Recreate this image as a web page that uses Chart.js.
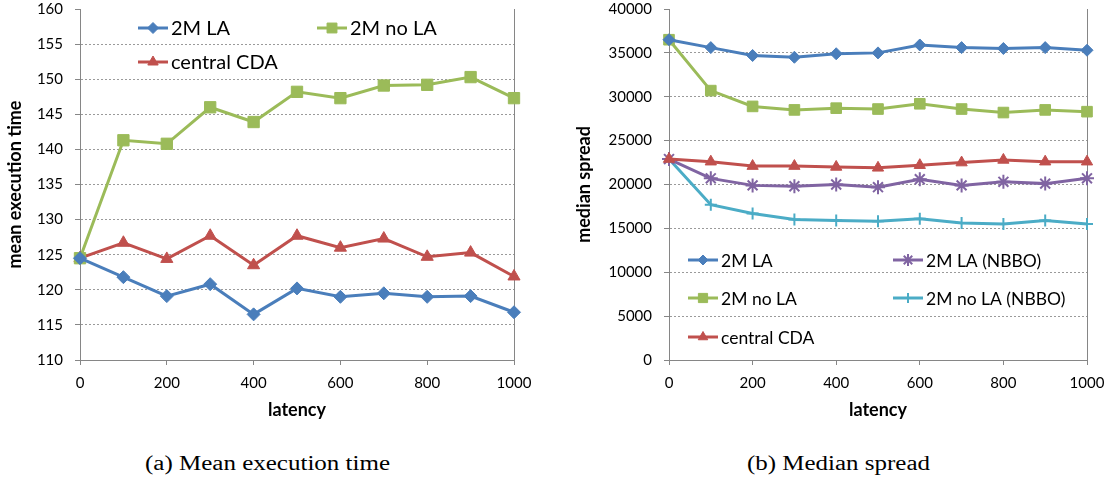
<!DOCTYPE html>
<html>
<head>
<meta charset="utf-8">
<script src="https://cdn.jsdelivr.net/npm/chart.js@4.4.0/dist/chart.umd.min.js"></script>
<style>
  body { margin: 0; background: #fff; width: 1109px; height: 484px; position: relative; overflow: hidden; }
  canvas { position: absolute; top: 0; }
  #execChart { left: 0; }
  #spreadChart { left: 565px; }
  .caption { position: absolute; top: 452px; font-family: "Liberation Serif"; font-size: 20px; white-space: nowrap; transform-origin: 0 0; color: #000; }
</style>
</head>
<body>
<canvas id="execChart" width="550" height="430"></canvas>
<canvas id="spreadChart" width="544" height="430"></canvas>
<div class="caption" style="left:145px" data-w="245">(a) Mean execution time</div>
<div class="caption" style="left:747px" data-w="183">(b) Median spread</div>
<script>
// latency values on the x axis
const latency = [0, 100, 200, 300, 400, 500, 600, 700, 800, 900, 1000];

// (a) mean execution time
const exec2MLA   = [124.5, 121.8, 119.1, 120.8, 116.5, 120.2, 119.0, 119.5, 119.0, 119.1, 116.8];
const exec2MNoLA = [124.5, 141.3, 140.8, 146.0, 143.9, 148.2, 147.3, 149.1, 149.2, 150.3, 147.3];
const execCDA    = [124.5, 126.7, 124.4, 127.7, 123.5, 127.7, 126.0, 127.3, 124.7, 125.3, 121.9];

// (b) median spread
const spread2MLA       = [36500, 35600, 34700, 34500, 34900, 35000, 35900, 35600, 35500, 35600, 35300];
const spread2MNoLA     = [36500, 30700, 28900, 28500, 28700, 28600, 29200, 28600, 28200, 28500, 28300];
const spreadCDA        = [22900, 22600, 22100, 22100, 22000, 21900, 22200, 22500, 22800, 22600, 22600];
const spread2MLANBBO   = [22900, 20700, 19900, 19800, 20000, 19700, 20600, 19900, 20300, 20100, 20700];
const spread2MNoLANBBO = [22900, 17700, 16700, 16000, 15900, 15800, 16100, 15600, 15500, 15900, 15500];

const BLUE = "#4A7EBB", GREEN = "#9BBB59", RED = "#C0504D", PURPLE = "#8064A2", CYAN = "#4BACC6";
const AXIS = "#868686";
const FONT = "Lato";

function pts(ys) {
  return ys.map((y, i) => ({ x: latency[i], y: y }));
}

function series(label, ys, color, style, radius) {
  return {
    label: label,
    data: pts(ys),
    borderColor: color,
    backgroundColor: color,
    borderWidth: 3,
    pointStyle: style,
    pointRadius: radius,
    pointHoverRadius: radius,
    pointBorderWidth: (style === "star" || style === "cross") ? 2 : 1,
    pointBackgroundColor: color,
    pointBorderColor: color,
    tension: 0,
    clip: false,
  };
}

// legend drawn inside the plot area, like the Excel original
const insideLegend = {
  id: "insideLegend",
  afterDraw(chart, args, opts) {
    const ctx = chart.ctx;
    ctx.save();
    ctx.font = opts.font;
    ctx.textBaseline = "middle";
    opts.items.forEach((it, i) => {
      const ds = chart.data.datasets[i];
      ctx.strokeStyle = ds.borderColor;
      ctx.fillStyle = ds.backgroundColor;
      ctx.lineWidth = 3;
      ctx.beginPath();
      ctx.moveTo(it[0], it[1]);
      ctx.lineTo(it[0] + 30, it[1]);
      ctx.stroke();
      ctx.lineWidth = ds.pointBorderWidth;
      Chart.helpers.drawPoint(ctx, { pointStyle: ds.pointStyle, radius: ds.pointRadius - 1, borderWidth: ds.pointBorderWidth }, it[0] + 15, it[1]);
      ctx.fillStyle = "#000";
      ctx.fillText(ds.label, it[0] + 33, it[1] + 1);
    });
    ctx.restore();
  }
};

function makeOptions(cfg) {
  return {
    responsive: false,
    animation: false,
    devicePixelRatio: 1,
    layout: { padding: { left: 0, top: 8, right: cfg.padRight, bottom: 0 } },
    plugins: {
      legend: { display: false },
      tooltip: { enabled: false },
      insideLegend: { font: cfg.legendFont, items: cfg.legendItems },
    },
    scales: {
      x: {
        type: "linear",
        min: 0, max: 1000,
        afterFit(s) { s.height = 70; s.paddingLeft = 0; s.paddingRight = 0; },
        ticks: { stepSize: 200, color: "#000", padding: 9, maxRotation: 0, font: { family: FONT, size: 15 }, callback: (v) => String(v) },
        grid: {
          color: (c) => (c.tick && c.tick.value === 1000 ? AXIS : "rgba(0,0,0,0)"),
          tickColor: AXIS,
          tickLength: 5,
        },
        border: { color: AXIS, width: 1 },
        title: { display: true, text: "latency", color: "#000", padding: { top: 0, bottom: 9 }, font: { family: FONT, size: 18, weight: "bold" } },
      },
      y: {
        min: cfg.yMin, max: cfg.yMax,
        afterFit(s) { s.width = cfg.yWidth; s.paddingTop = 0; s.paddingBottom = 0; },
        ticks: { stepSize: cfg.yStep, color: "#000", padding: 12, font: { family: FONT, size: 15 }, callback: (v) => String(v) },
        grid: {
          color: (c) => (c.tick && c.tick.value === cfg.yMax ? "rgba(0,0,0,0)" : "#9a9a9a"),
          tickColor: AXIS,
          tickLength: 5,
        },
        border: { color: AXIS, width: 1, dash: [2, 2] },
        title: { display: true, text: cfg.yTitle, color: "#000", padding: { top: cfg.yTitlePad, bottom: 0 }, font: { family: FONT, size: 18, weight: "bold" } },
      },
    },
  };
}

new Chart(document.getElementById("execChart"), {
  type: "line",
  data: {
    datasets: [
      series("2M LA", exec2MLA, BLUE, "rectRot", 6.5),
      series("2M no LA", exec2MNoLA, GREEN, "rect", 8),
      series("central CDA", execCDA, RED, "triangle", 7),
    ],
  },
  options: makeOptions({
    padRight: 36, yMin: 110, yMax: 160, yStep: 5, yWidth: 80, yTitlePad: 4,
    yTitle: "mean execution time",
    legendFont: "20px " + FONT,
    legendItems: [[138, 28], [317, 28], [138, 62]],
  }),
  plugins: [insideLegend],
});

new Chart(document.getElementById("spreadChart"), {
  type: "line",
  data: {
    datasets: [
      series("2M LA", spread2MLA, BLUE, "rectRot", 6),
      series("2M no LA", spread2MNoLA, GREEN, "rect", 7.5),
      series("central CDA", spreadCDA, RED, "triangle", 6.5),
      series("2M LA (NBBO)", spread2MLANBBO, PURPLE, "star", 7),
      series("2M no LA (NBBO)", spread2MNoLANBBO, CYAN, "cross", 6),
    ],
  },
  options: makeOptions({
    padRight: 22, yMin: 0, yMax: 40000, yStep: 5000, yWidth: 104, yTitlePad: 8,
    yTitle: "median spread",
    legendFont: "17.5px " + FONT,
    legendItems: [[123, 260], [123, 298], [123, 337], [328, 260], [328, 298]],
  }),
  plugins: [insideLegend],
});

// stretch captions to the width they take in the original figure
document.querySelectorAll(".caption").forEach((el) => {
  const w = el.getBoundingClientRect().width;
  el.style.transform = "scaleX(" + (Number(el.dataset.w) / w) + ")";
});
</script>
</body>
</html>
